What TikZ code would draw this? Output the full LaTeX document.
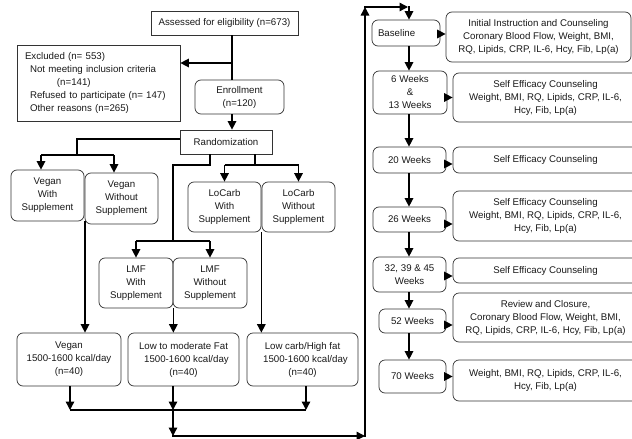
\documentclass[tikz,border=0pt]{standalone}
\usepackage{fontspec}
\setmainfont{Liberation Sans}
\usetikzlibrary{arrows.meta}
\begin{document}
\begin{tikzpicture}[x=1pt,y=-1pt,
  every node/.style={font=\fontsize{9.7}{13}\selectfont, text=black!90, inner sep=0pt, align=center},
  sbox/.style={draw=black!80, line width=0.7pt},
  rbox/.style={draw=black!80, line width=0.7pt, rounded corners=6pt},
  conn/.style={line width=1.4pt, black},
  arr/.style={line width=1.4pt, black, -{Triangle[length=8.5pt,width=8.5pt]}}]
\useasboundingbox (0,0) rectangle (632,439);
\clip (0,0) rectangle (632,439);
% ---------- left part ----------
\node[sbox, minimum width=147, minimum height=24] (assess) at (224.5,23) {Assessed for eligibility (n=673)};
\node[sbox, text width=147pt, inner xsep=8pt, minimum height=76, align=left] (excl) at (98.5,83)
  {Excluded (n= 553)\\\hspace*{5pt}Not meeting inclusion criteria\\\hspace*{32pt}(n=141)\\\hspace*{5pt}Refused to participate (n= 147)\\\hspace*{5pt}Other reasons (n=265)};
\node[rbox, minimum width=89, minimum height=34] (enroll) at (239.5,97) {Enrollment\\(n=120)};
\node[sbox, minimum width=92, minimum height=24] (random) at (226,142) {Randomization};
\node[rbox, minimum width=73, minimum height=51] (veganW) at (47.5,195.5) {Vegan\\With\\Supplement};
\node[rbox, minimum width=73, minimum height=51] (veganWO) at (121.5,198.5) {Vegan\\Without\\Supplement};
\node[rbox, minimum width=73, minimum height=50] (locarbW) at (224.5,207) {LoCarb\\With\\Supplement};
\node[rbox, minimum width=73, minimum height=50] (locarbWO) at (298.5,207) {LoCarb\\Without\\Supplement};
\node[rbox, minimum width=74, minimum height=50] (lmfW) at (136,283) {LMF\\With\\Supplement};
\node[rbox, minimum width=74, minimum height=50] (lmfWO) at (210,283) {LMF\\Without\\Supplement};
\node[rbox, minimum width=104, minimum height=53] (vegan) at (69,359.5) {Vegan\\1500-1600 kcal/day\\(n=40)};
\node[rbox, minimum width=111, minimum height=53] (lowmod) at (183.5,359.5) {Low to moderate Fat\\\hspace*{6pt}1500-1600 kcal/day\\(n=40)};
\node[rbox, minimum width=111, minimum height=53] (lowcarb) at (302.5,359.5) {Low carb/High fat\\\hspace*{6pt}1500-1600 kcal/day\\(n=40)};
% ---------- right part ----------
\node[rbox, minimum width=66, minimum height=26, text width=56pt, align=left, inner xsep=6pt] (base) at (406,33) {Baseline};
\node[rbox, minimum width=74, minimum height=43] (w6) at (410,92.5) {6 Weeks\\\&\\13 Weeks};
\node[rbox, minimum width=73, minimum height=26] (w20) at (409.5,160) {20 Weeks};
\node[rbox, minimum width=73, minimum height=25] (w26) at (409.5,219.5) {26 Weeks};
\node[rbox, minimum width=73, minimum height=35] (w32) at (409.5,274.5) {32, 39 \& 45\\Weeks};
\node[rbox, minimum width=67, minimum height=24] (w52) at (412.5,321) {52 Weeks};
\node[rbox, minimum width=67, minimum height=33] (w70) at (412.5,376.5) {70 Weeks};
\node[rbox, minimum width=185, minimum height=50] (init) at (538.5,37) {Initial Instruction and Counseling\\Coronary Blood Flow, Weight, BMI,\\RQ, Lipids, CRP, IL-6, Hcy, Fib, Lp(a)};
\node[rbox, minimum width=185, minimum height=49] (se1) at (545.5,97.5) {Self Efficacy Counseling\\Weight, BMI, RQ, Lipids, CRP, IL-6,\\Hcy, Fib, Lp(a)};
\node[rbox, minimum width=185, minimum height=26] (se2) at (545.5,160) {Self Efficacy Counseling};
\node[rbox, minimum width=185, minimum height=50] (se3) at (545.5,216) {Self Efficacy Counseling\\Weight, BMI, RQ, Lipids, CRP, IL-6,\\Hcy, Fib, Lp(a)};
\node[rbox, minimum width=185, minimum height=25] (se4) at (545.5,270.5) {Self Efficacy Counseling};
\node[rbox, minimum width=185, minimum height=49] (rev) at (545.5,317.5) {Review and Closure,\\Coronary Blood Flow, Weight, BMI,\\RQ, Lipids, CRP, IL-6, Hcy, Fib, Lp(a)};
\node[rbox, minimum width=185, minimum height=41] (wt) at (545.5,380.5) {Weight, BMI, RQ, Lipids, CRP, IL-6,\\Hcy, Fib, Lp(a)};
% ---------- coordinates ----------
\coordinate (v) at (232,63);
\coordinate (jV) at (77,155);
\coordinate (aVW) at (41,155);
\coordinate (aVWO) at (114,155);
\coordinate (rb1) at (210,165);
\coordinate (jL) at (173,241);
\coordinate (rb2) at (255,165);
\coordinate (cv) at (85,0);
\coordinate (b1) at (70,410);
\coordinate (b2) at (173,410);
\coordinate (b3) at (306,410);
\coordinate (b4) at (173,436);
\coordinate (b5) at (365,436);
\coordinate (b6) at (365,7);
\coordinate (b7) at (408,7);
\coordinate (b8) at (409,6);
\coordinate (t) at (409,0);
% ---------- connectors left ----------
\draw[conn] (assess.south -| v) -- (enroll.north -| v);
\draw[arr] (v) -- (v -| excl.east);
\draw[arr] (enroll.south -| v) -- (random.north -| v);
\draw[conn] ([yshift=3pt]random.west) -| (jV);
\draw[conn] (aVW) -- (aVWO);
\draw[arr] (aVW) -- (aVW |- veganW.north);
\draw[arr] (aVWO) -- (aVWO |- veganWO.north);
\draw[conn] (random.south -| rb1) -- (rb1) -| (jL);
\draw[conn] (jL -| lmfW) -- (jL -| lmfWO);
\draw[arr] (jL -| lmfW) -- (lmfW.north);
\draw[arr] (jL -| lmfWO) -- (lmfWO.north);
\draw[conn] (random.south -| rb2) -- (rb2);
\draw[conn] (rb2 -| locarbW) -- (rb2 -| locarbWO);
\draw[arr] (rb2 -| locarbW) -- (locarbW.north);
\draw[arr] (rb2 -| locarbWO) -- (locarbWO.north);
\draw[arr] (veganW.south -| cv) -- (vegan.north -| cv);
\draw[arr] (lmfW.south east) -- (lmfW.south east |- lowmod.north);
\draw[arr] (locarbW.south east) -- (locarbW.south east |- lowcarb.north);
\draw[arr] (vegan.south -| b1) -- (b1);
\draw[arr] (lowmod.south -| b2) -- (b2);
\draw[arr] (lowcarb.south -| b3) -- (b3);
\draw[conn] (b1) -- (b3);
\draw[arr] (b2) -- (b4);
\draw[arr] ([xshift=-0.7pt]b4) -- (b5);
\draw[arr] ([yshift=-0.7pt]b5) -- (b6);
\draw[arr] ([xshift=-0.7pt]b6) -- (b7);
\draw[arr] (b8) -- (base.north -| b8);
% ---------- connectors right ----------
\draw[arr] (base.south -| t) -- (w6.north -| t);
\draw[arr] (w6.south -| t) -- (w20.north -| t);
\draw[arr] (w20.south -| t) -- (w26.north -| t);
\draw[arr] (w26.south -| t) -- (w32.north -| t);
\draw[arr] (w32.south -| t) -- (w52.north -| t);
\draw[arr] (w52.south -| t) -- (w70.north -| t);
\draw[arr] ([yshift=-1pt]base.east) -- ([yshift=-1pt]init.west |- base.east);
\draw[arr] (se1.west -| w6.east) -- (se1.west);
\draw[arr] ([yshift=-4pt]w20.east) -- ([yshift=-4pt]se2.west);
\draw[arr] ([yshift=-4.5pt]w26.east) -- ([yshift=-4.5pt]se3.west |- w26.east);
\draw[arr] ([yshift=-1.5pt]w32.east) -- ([yshift=-1.5pt]se4.west |- w32.east);
\draw[arr] ([yshift=-4pt]w52.east) -- ([yshift=-4pt]rev.west |- w52.east);
\draw[arr] (w70.east) -- (wt.west |- w70.east);
\end{tikzpicture}
\end{document}
